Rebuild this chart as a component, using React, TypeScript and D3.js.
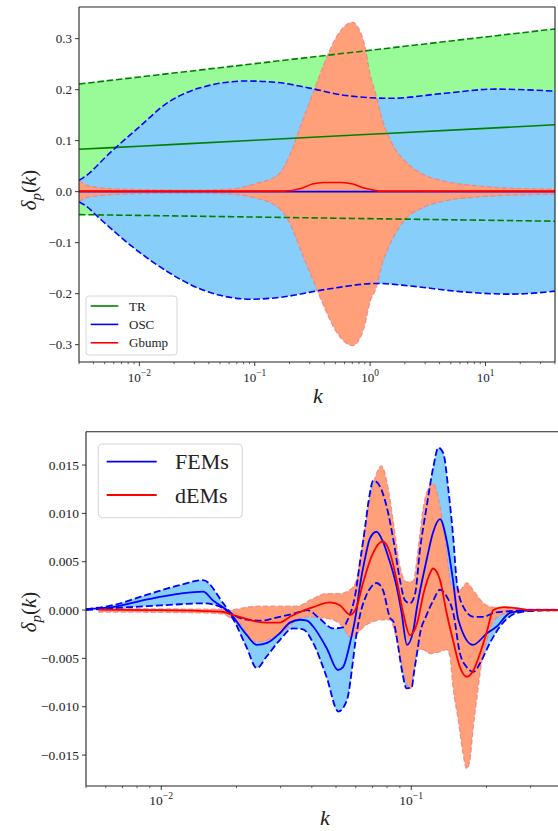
import React from 'react';
import * as d3 from 'd3';

type P = [number, number];

// ---------------- Top panel data ----------------
const trK = [0.003, 0.01, 0.1, 1, 10, 40];
const trMean = [0.083, 0.0891, 0.1007, 0.1124, 0.124, 0.131];
const trUpper = [0.211, 0.2247, 0.2509, 0.2771, 0.3033, 0.319];
const trLower = [-0.045, -0.0466, -0.0498, -0.053, -0.0561, -0.058];

const oscMean: P[] = [[0.003, 0], [40, 0]];
const oscUpper: P[] = [
  [0.003, 0.022], [0.0034, 0.03], [0.0055, 0.075], [0.01, 0.127], [0.017, 0.172],
  [0.033, 0.203], [0.085, 0.217], [0.158, 0.214], [0.3, 0.203], [0.59, 0.189],
  [1.48, 0.183], [4.5, 0.193], [12, 0.201], [40, 0.197],
];
const oscLower: P[] = [
  [0.003, -0.02], [0.0034, -0.027], [0.0045, -0.052], [0.0087, -0.108], [0.017, -0.155],
  [0.033, -0.19], [0.095, -0.211], [0.155, -0.208], [0.43, -0.191], [1.15, -0.18],
  [2.24, -0.185], [6.0, -0.196], [16.6, -0.201], [40, -0.195],
];

const gbMean: P[] = [
  [0.003, 0.001], [0.1, 0.001], [0.178, 0.001], [0.251, 0.006], [0.316, 0.015], [0.398, 0.018],
  [0.562, 0.018], [0.708, 0.015], [0.891, 0.007], [1.122, 0.002], [1.259, 0.001], [40, 0.001],
];
const gbUpper: P[] = [
  [0.003, 0.022], [0.00355, 0.012], [0.005, 0.007], [0.01, 0.004], [0.0316, 0.003], [0.063, 0.005],
  [0.1, 0.015], [0.158, 0.032], [0.2, 0.07], [0.251, 0.13], [0.316, 0.19], [0.398, 0.25],
  [0.501, 0.3], [0.631, 0.328], [0.708, 0.332], [0.794, 0.32], [0.891, 0.29], [1.0, 0.23],
  [1.122, 0.19], [1.259, 0.145], [1.585, 0.09], [2.0, 0.06], [2.82, 0.035], [4.47, 0.02],
  [7.94, 0.012], [15.8, 0.007], [40, 0.005],
];
const gbLower: P[] = [
  [0.003, -0.02], [0.00355, -0.011], [0.005, -0.007], [0.01, -0.004], [0.0316, -0.003], [0.063, -0.005],
  [0.1, -0.012], [0.158, -0.03], [0.2, -0.06], [0.251, -0.115], [0.316, -0.17], [0.398, -0.225],
  [0.501, -0.272], [0.631, -0.298], [0.708, -0.302], [0.794, -0.292], [0.891, -0.265], [1.0, -0.215],
  [1.122, -0.19], [1.259, -0.145], [1.585, -0.09], [2.0, -0.055], [2.82, -0.032], [4.47, -0.018],
  [7.94, -0.011], [15.8, -0.007], [40, -0.005],
];

const topYTicks = [-0.3, -0.2, -0.1, 0.0, 0.1, 0.2, 0.3];
const topXExps = [-2, -1, 0, 1];
const topLegend = ['TR', 'OSC', 'Gbump'];

// ---------------- Bottom panel data ----------------
const femMean: P[] = [
  [0.005, 0.0001], [0.0064, 0.0003], [0.0088, 0.0011], [0.0119, 0.0017], [0.0147, 0.0019],
  [0.0161, 0.001], [0.0188, -0.0003], [0.022, -0.0026], [0.0241, -0.0036], [0.0265, -0.0034],
  [0.0298, -0.0024], [0.0327, -0.0013], [0.0359, -0.001], [0.0383, -0.0011], [0.0405, -0.0017],
  [0.046, -0.004], [0.0509, -0.0062], [0.0533, -0.0059], [0.0569, -0.0034], [0.0602, -0.0003],
  [0.0623, 0.0025], [0.0655, 0.0055], [0.0683, 0.0074], [0.0726, 0.0081], [0.077, 0.0071],
  [0.0809, 0.0055], [0.0874, 0.0024], [0.0915, -0.0003], [0.0961, -0.0036], [0.1019, -0.0021],
  [0.1054, 0.0003], [0.1152, 0.0052], [0.1221, 0.008], [0.1303, 0.0094], [0.1385, 0.0072],
  [0.1468, 0.0031], [0.1542, -0.001], [0.1765, -0.0036], [0.2008, -0.0024], [0.2196, -0.0017],
  [0.2482, -0.0003], [0.2985, 0.0], [0.4, 0.0],
];
const femUpper: P[] = [
  [0.005, 0.0001], [0.0064, 0.0005], [0.0088, 0.0016], [0.0119, 0.0026], [0.0147, 0.0031],
  [0.0177, 0.0007], [0.0188, -0.0002], [0.022, -0.001], [0.025, -0.0011], [0.0298, -0.0007],
  [0.0359, -0.0002], [0.0383, 0.0], [0.0431, -0.0009], [0.0486, -0.0019], [0.0533, -0.0018],
  [0.0557, -0.001], [0.0596, 0.0015], [0.0624, 0.005], [0.0653, 0.0085], [0.0677, 0.0115],
  [0.0705, 0.0134], [0.0749, 0.0128], [0.0797, 0.0107], [0.0849, 0.0072], [0.0901, 0.0031],
  [0.0944, 0.001], [0.0988, 0.0007], [0.1036, 0.0017], [0.1083, 0.0062], [0.1152, 0.0107],
  [0.1225, 0.0148], [0.1283, 0.0168], [0.1344, 0.0162], [0.1408, 0.0124], [0.1475, 0.0072],
  [0.1522, 0.0028], [0.1617, 0.0003], [0.1775, -0.0007], [0.1946, -0.0007], [0.2133, -0.0003],
  [0.2482, -0.0001], [0.2985, 0.0], [0.4, 0.0],
];
const femLower: P[] = [
  [0.005, 0.0], [0.0064, 0.0002], [0.0088, 0.0004], [0.0119, 0.0006], [0.0147, 0.0007],
  [0.0177, 0.0002], [0.0188, -0.0004], [0.0219, -0.0038], [0.0241, -0.006], [0.0264, -0.0048],
  [0.0298, -0.0031], [0.0336, -0.0019], [0.0369, -0.002], [0.0405, -0.0034], [0.0458, -0.0069],
  [0.0511, -0.0105], [0.0553, -0.0093], [0.0585, -0.0052], [0.0596, -0.0035], [0.0624, -0.0005],
  [0.0653, 0.0012], [0.0683, 0.0022], [0.0727, 0.0028], [0.077, 0.0021], [0.0822, -0.0008],
  [0.0849, -0.0012], [0.0877, -0.003], [0.0901, -0.005], [0.0926, -0.0068], [0.0958, -0.0081],
  [0.1004, -0.008], [0.1025, -0.0065], [0.1054, -0.0045], [0.1083, -0.0025], [0.1152, -0.0005],
  [0.1225, 0.001], [0.1303, 0.0021], [0.1385, 0.0014], [0.1472, -0.0003], [0.1566, -0.0045],
  [0.1667, -0.0059], [0.1775, -0.0064], [0.1883, -0.0055], [0.2064, -0.0034], [0.2264, -0.0017],
  [0.264, -0.0003], [0.2985, -0.0001], [0.4, 0.0],
];

const demMean: P[] = [
  [0.0056, 0.00005], [0.0088, 0.0], [0.0147, -0.0001], [0.0177, -0.0002], [0.0193, -0.0005],
  [0.0219, -0.0009], [0.0241, -0.0012], [0.0264, -0.0013], [0.0298, -0.0013], [0.0327, -0.0007],
  [0.0359, -0.0002], [0.0405, 0.0003], [0.0473, 0.0008], [0.0518, 0.0005], [0.0569, -0.0005],
  [0.0604, 0.0003], [0.0641, 0.0028], [0.0703, 0.0059], [0.077, 0.0071], [0.0822, 0.0059],
  [0.0874, 0.0031], [0.0928, -0.0003], [0.0988, -0.0026], [0.1054, -0.0014], [0.1119, 0.0017],
  [0.1188, 0.0038], [0.1221, 0.0043], [0.1303, 0.0031], [0.1385, -0.0003], [0.1468, -0.0031],
  [0.1566, -0.0059], [0.1667, -0.0069], [0.1775, -0.0062], [0.1883, -0.0045], [0.2008, -0.0022],
  [0.2128, 0.0], [0.2336, 0.0003], [0.2634, 0.0002], [0.2985, 0.0], [0.4, 0.0],
];
const demUpper: P[] = [
  [0.0056, 0.0002], [0.0147, 0.0001], [0.0177, 0.0001], [0.0188, 0.0], [0.0219, 0.0003],
  [0.0254, 0.0004], [0.0298, 0.0004], [0.0348, 0.0004], [0.0405, 0.0012], [0.0458, 0.0017],
  [0.0518, 0.0017], [0.0569, 0.0021], [0.0604, 0.0031], [0.0641, 0.0072], [0.0683, 0.0114],
  [0.0726, 0.0141], [0.076, 0.0149], [0.0797, 0.0134], [0.0849, 0.009], [0.0901, 0.0045],
  [0.0956, 0.0029], [0.1019, 0.003], [0.1068, 0.0066], [0.1119, 0.0107], [0.1166, 0.0125],
  [0.1221, 0.0131], [0.1279, 0.0117], [0.1366, 0.0072], [0.1451, 0.0024], [0.1566, 0.0021],
  [0.1667, 0.0028], [0.1775, 0.002], [0.1946, 0.0007], [0.2128, 0.0003], [0.2482, 0.0002],
  [0.2985, 0.0001], [0.4, 0.0001],
];
const demLower: P[] = [
  [0.0056, -0.0002], [0.0147, -0.0003], [0.0177, -0.0004], [0.0188, -0.0008], [0.0212, -0.0017],
  [0.0227, -0.0031], [0.025, -0.0033], [0.0281, -0.0028], [0.0308, -0.0022], [0.0327, -0.0016],
  [0.0348, -0.001], [0.0381, -0.0007], [0.0431, -0.0008], [0.0487, -0.001], [0.0534, -0.0018],
  [0.0569, -0.0028], [0.0604, -0.0025], [0.0641, -0.0018], [0.0703, -0.0012], [0.077, -0.001],
  [0.0822, -0.001], [0.0874, -0.0031], [0.0928, -0.0062], [0.097, -0.0079], [0.0998, -0.0081],
  [0.1025, -0.006], [0.1054, -0.0041], [0.1119, -0.0041], [0.1188, -0.0045], [0.1303, -0.0043],
  [0.1385, -0.0041], [0.1428, -0.0048], [0.1468, -0.0079], [0.1542, -0.0114], [0.161, -0.0148],
  [0.1667, -0.0164], [0.1717, -0.0155], [0.1765, -0.0124], [0.1832, -0.009], [0.191, -0.0055],
  [0.2008, -0.0031], [0.2128, -0.0012], [0.2336, -0.0004], [0.2647, -0.0002], [0.2985, -0.0001],
  [0.4, -0.0001],
];

const botYTicks = [-0.015, -0.01, -0.005, 0.0, 0.005, 0.01, 0.015];
const botXExps = [-2, -1];
const botLegend = ['FEMs', 'dEMs'];

// ---------------- styling ----------------
const FONT = "'Liberation Serif', 'DejaVu Serif', serif";
const C_GREEN_FILL = '#98fb98';
const C_BLUE_FILL = '#87cefa';
const C_SALMON_FILL = '#ffa07a';
const C_SALMON_EDGE = '#f08080';
const C_GREEN = '#008000';
const C_BLUE = '#0000ff';
const C_RED = '#ff0000';

const fmtMinus = (s: string) => s.replace('-', '\u2212');

function bandPath(
  x: d3.ScaleLogarithmic<number, number>,
  y: d3.ScaleLinear<number, number>,
  upper: P[],
  lower: P[]
) {
  const line = d3
    .line<P>()
    .x((d) => x(d[0]))
    .y((d) => y(d[1]))
    .curve(d3.curveMonotoneX);
  const up = line(upper) || '';
  const lo = line([...lower].reverse()) || '';
  return up + 'L' + lo.slice(1) + 'Z';
}

function linePath(
  x: d3.ScaleLogarithmic<number, number>,
  y: d3.ScaleLinear<number, number>,
  pts: P[]
) {
  return (
    d3
      .line<P>()
      .x((d) => x(d[0]))
      .y((d) => y(d[1]))
      .curve(d3.curveMonotoneX)(pts) || ''
  );
}

type AxesProps = {
  x: d3.ScaleLogarithmic<number, number>;
  y: d3.ScaleLinear<number, number>;
  yTicks: number[];
  yDigits: number;
  xExps: number[];
  fs: number;
  labelY: number;
  xLabelX: number;
  xLabelY: number;
  yLabelX: number;
  yLabelY: number;
  showRight: boolean;
};

function Axes(p: AxesProps) {
  const [x0, x1] = p.x.range();
  const [yb, yt] = p.y.range();
  const minor = p.x
    .ticks()
    .filter((k) => Math.abs(Math.log10(k) - Math.round(Math.log10(k))) > 1e-6);
  return (
    <g fontFamily={FONT} fill="#222">
      <line x1={x0} x2={x0} y1={yt} y2={yb} stroke="#222" strokeWidth={1.1} />
      <line x1={x0} x2={x1} y1={yb} y2={yb} stroke="#222" strokeWidth={1.1} />
      <line x1={x0} x2={x1} y1={yt} y2={yt} stroke="#222" strokeWidth={1.1} />
      {p.showRight && <line x1={x1} x2={x1} y1={yt} y2={yb} stroke="#222" strokeWidth={1.1} />}
      {p.yTicks.map((t) => (
        <g key={'y' + t}>
          <line x1={x0 - 4} x2={x0} y1={p.y(t)} y2={p.y(t)} stroke="#222" strokeWidth={0.9} />
          <text x={x0 - 7} y={p.y(t) + p.fs * 0.35} textAnchor="end" fontSize={p.fs}>
            {fmtMinus(t.toFixed(p.yDigits))}
          </text>
        </g>
      ))}
      {p.xExps.map((e) => {
        const xx = p.x(Math.pow(10, e));
        return (
          <g key={'x' + e}>
            <line x1={xx} x2={xx} y1={yb} y2={yb + 4} stroke="#222" strokeWidth={0.9} />
            <text x={xx} y={p.labelY} textAnchor="middle" fontSize={p.fs}>
              <tspan>10</tspan>
              <tspan dy={-p.fs * 0.45} fontSize={p.fs * 0.72}>
                {fmtMinus(String(e))}
              </tspan>
            </text>
          </g>
        );
      })}
      {minor.map((k) => (
        <line
          key={'m' + k}
          x1={p.x(k)}
          x2={p.x(k)}
          y1={yb}
          y2={yb + 2.2}
          stroke="#222"
          strokeWidth={0.7}
        />
      ))}
      <text x={p.xLabelX} y={p.xLabelY} textAnchor="middle" fontSize={22} fontStyle="italic">
        k
      </text>
      <text
        transform={`translate(${p.yLabelX},${p.yLabelY}) rotate(-90)`}
        textAnchor="middle"
        fontSize={21}
      >
        <tspan fontStyle="italic">δ</tspan>
        <tspan fontStyle="italic" fontSize={15} dy={5}>
          p
        </tspan>
        <tspan dy={-5}>(</tspan>
        <tspan fontStyle="italic">k</tspan>
        <tspan>)</tspan>
      </text>
    </g>
  );
}

function TopPanel() {
  const L = 79,
    R = 555,
    T = 7,
    B = 362;
  const x = d3.scaleLog().domain([0.003, 40]).range([L, R]);
  const y = d3.scaleLinear().domain([-0.334, 0.362]).range([B, T]);
  const tr = (vals: number[]): P[] => trK.map((k, i) => [k, vals[i]] as P);
  const legendColors = [C_GREEN, C_BLUE, C_RED];
  return (
    <g>
      <defs>
        <clipPath id="clipTop">
          <rect x={L} y={T} width={R - L} height={B - T} />
        </clipPath>
      </defs>
      <g clipPath="url(#clipTop)">
        <path d={bandPath(x, y, tr(trUpper), tr(trLower))} fill={C_GREEN_FILL} />
        <path d={bandPath(x, y, oscUpper, oscLower)} fill={C_BLUE_FILL} />
        <path d={bandPath(x, y, gbUpper, gbLower)} fill={C_SALMON_FILL} />
        <path d={linePath(x, y, gbUpper)} fill="none" stroke={C_SALMON_EDGE} strokeWidth={1.3} strokeDasharray="5,2.5" opacity={0.8} />
        <path d={linePath(x, y, gbLower)} fill="none" stroke={C_SALMON_EDGE} strokeWidth={1.3} strokeDasharray="5,2.5" opacity={0.8} />
        <path d={linePath(x, y, tr(trMean))} fill="none" stroke={C_GREEN} strokeWidth={1.6} />
        <path d={linePath(x, y, tr(trUpper))} fill="none" stroke={C_GREEN} strokeWidth={1.6} strokeDasharray="6.5,2.8" />
        <path d={linePath(x, y, tr(trLower))} fill="none" stroke={C_GREEN} strokeWidth={1.6} strokeDasharray="6.5,2.8" />
        <path d={linePath(x, y, oscMean)} fill="none" stroke={C_BLUE} strokeWidth={1.6} />
        <path d={linePath(x, y, oscUpper)} fill="none" stroke={C_BLUE} strokeWidth={1.6} strokeDasharray="6.5,2.8" />
        <path d={linePath(x, y, oscLower)} fill="none" stroke={C_BLUE} strokeWidth={1.6} strokeDasharray="6.5,2.8" />
        <path d={linePath(x, y, gbMean)} fill="none" stroke={C_RED} strokeWidth={1.6} />
      </g>
      <Axes
        x={x}
        y={y}
        yTicks={topYTicks}
        yDigits={1}
        xExps={topXExps}
        fs={13}
        labelY={382}
        xLabelX={318}
        xLabelY={403}
        yLabelX={36}
        yLabelY={190}
        showRight={true}
      />
      <g fontFamily={FONT}>
        <rect x={86} y={296} width={91} height={59} rx={3} fill="#fff" fillOpacity={0.8} stroke="#ccc" strokeWidth={0.8} />
        {topLegend.map((name, i) => {
          const yy = 306 + i * 18.4;
          return (
            <g key={name}>
              <line x1={90.7} x2={118.3} y1={yy} y2={yy} stroke={legendColors[i]} strokeWidth={1.6} />
              <text x={129} y={yy + 4.5} fontSize={13} fill="#222">
                {name}
              </text>
            </g>
          );
        })}
      </g>
    </g>
  );
}

function BottomPanel() {
  const L = 86,
    R = 561.8,
    T = 431.7,
    B = 786;
  const x = d3.scaleLog().domain([0.005, 0.4]).range([L, R]);
  const y = d3.scaleLinear().domain([-0.0182, 0.01845]).range([B, T]);
  const legendColors = [C_BLUE, C_RED];
  return (
    <g>
      <defs>
        <clipPath id="clipBot">
          <rect x={L} y={T} width={R - L} height={B - T} />
        </clipPath>
      </defs>
      <g clipPath="url(#clipBot)">
        <path d={bandPath(x, y, femUpper, femLower)} fill={C_BLUE_FILL} />
        <path d={bandPath(x, y, demUpper, demLower)} fill={C_SALMON_FILL} />
        <path d={linePath(x, y, demUpper)} fill="none" stroke={C_SALMON_EDGE} strokeWidth={1.3} strokeDasharray="5,2.5" opacity={0.8} />
        <path d={linePath(x, y, demLower)} fill="none" stroke={C_SALMON_EDGE} strokeWidth={1.3} strokeDasharray="5,2.5" opacity={0.8} />
        <path d={linePath(x, y, femUpper)} fill="none" stroke={C_BLUE} strokeWidth={1.8} strokeDasharray="7,3" />
        <path d={linePath(x, y, femLower)} fill="none" stroke={C_BLUE} strokeWidth={1.8} strokeDasharray="7,3" />
        <path d={linePath(x, y, femMean)} fill="none" stroke={C_BLUE} strokeWidth={1.8} />
        <path d={linePath(x, y, demMean)} fill="none" stroke={C_RED} strokeWidth={1.8} />
      </g>
      <Axes
        x={x}
        y={y}
        yTicks={botYTicks}
        yDigits={3}
        xExps={botXExps}
        fs={13.5}
        labelY={805}
        xLabelX={325}
        xLabelY={825}
        yLabelX={36}
        yLabelY={612}
        showRight={false}
      />
      <g fontFamily={FONT}>
        <rect x={98.3} y={444} width={144} height={73.7} rx={4} fill="#fff" fillOpacity={0.8} stroke="#ccc" strokeWidth={0.8} />
        {botLegend.map((name, i) => {
          const yy = 461.7 + i * 33.3;
          return (
            <g key={name}>
              <line x1={106.7} x2={156.7} y1={yy} y2={yy} stroke={legendColors[i]} strokeWidth={1.8} />
              <text x={175} y={yy + 7.5} fontSize={22} fill="#222">
                {name}
              </text>
            </g>
          );
        })}
      </g>
    </g>
  );
}

export default function App() {
  return (
    <svg
      width={558}
      height={831}
      viewBox="0 0 558 831"
      style={{ position: 'absolute', left: 0, top: 0, background: '#fff' }}
    >
      <rect x={0} y={0} width={558} height={831} fill="#fff" />
      <TopPanel />
      <BottomPanel />
    </svg>
  );
}
